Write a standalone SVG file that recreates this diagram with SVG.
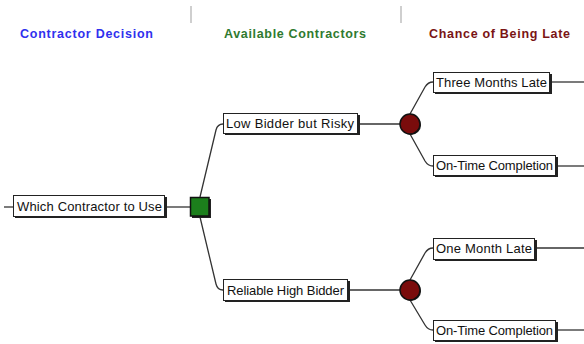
<svg xmlns="http://www.w3.org/2000/svg" width="584" height="344" viewBox="0 0 584 344">
  <defs>
    <style>
      .hdr { font-family: "Liberation Sans", Arial, sans-serif; font-size: 12.5px; font-weight: bold; }
      .sep { stroke: #cfcfcf; stroke-width: 2; }
      .box { fill: #ffffff; stroke: #222222; stroke-width: 1; }
      .shadow { fill: #222222; }
      .lbl { font-family: "Liberation Sans", Arial, sans-serif; font-size: 13px; fill: #111111; }
      .conn { fill: none; stroke: #333333; stroke-width: 1.3; }
      .chance { fill: #7a0c0c; stroke: #111111; stroke-width: 1.5; }
      .decision { fill: #1c7f1c; stroke: #111111; stroke-width: 1.5; }
    </style>
  </defs>

  <rect width="584" height="344" fill="#ffffff"/>

  <!-- column headers -->
  <g id="headers">
    <line class="sep" x1="191" y1="6" x2="191" y2="23"/>
    <line class="sep" x1="401" y1="6" x2="401" y2="23"/>
    <text class="hdr" x="20" y="38" fill="#3030ee" textLength="133" lengthAdjust="spacing">Contractor Decision</text>
    <text class="hdr" x="224" y="38" fill="#2f7a2f" textLength="142" lengthAdjust="spacing">Available Contractors</text>
    <text class="hdr" x="429" y="38" fill="#7a1414" textLength="141" lengthAdjust="spacing">Chance of Being Late</text>
  </g>

  <!-- connectors -->
  <g id="connectors">
    <line class="conn" x1="4" y1="207" x2="13" y2="207"/>
    <line class="conn" x1="167" y1="207" x2="190" y2="207"/>
    <path class="conn" d="M200,197 L216,130 Q217.5,124 223,124"/>
    <path class="conn" d="M200,217 L216,284 Q217.5,290 223,290"/>
    <line class="conn" x1="360" y1="124" x2="400" y2="124"/>
    <line class="conn" x1="350" y1="290" x2="400" y2="290"/>
    <path class="conn" d="M410,114 L425,87 Q428,82 433,82"/>
    <path class="conn" d="M410,134 L425,161 Q428,166 433,166"/>
    <path class="conn" d="M410,280 L425,253 Q428,248 433,248"/>
    <path class="conn" d="M410,300 L425,325 Q428,330 433,330"/>
    <line class="conn" x1="552" y1="82" x2="584" y2="82"/>
    <line class="conn" x1="558" y1="166" x2="584" y2="166"/>
    <line class="conn" x1="537" y1="248" x2="584" y2="248"/>
    <line class="conn" x1="558" y1="330" x2="584" y2="330"/>
  </g>

  <!-- decision node -->
  <g id="root">
    <rect class="shadow" x="15" y="197" width="152" height="21"/>
    <rect class="box" x="13.5" y="195.5" width="151" height="21"/>
    <text class="lbl" x="17" y="211" textLength="145" lengthAdjust="spacing">Which Contractor to Use</text>
  </g>
  <g id="decision">
    <rect x="192" y="199" width="19" height="19" fill="#222222"/>
    <rect class="decision" x="190.5" y="197.5" width="18.5" height="18.5"/>
  </g>

  <!-- contractor options -->
  <g id="low-bidder">
    <rect class="shadow" x="225" y="115" width="135" height="20"/>
    <rect class="box" x="223.5" y="113.5" width="134" height="20"/>
    <text class="lbl" x="226" y="128" textLength="128" lengthAdjust="spacing">Low Bidder but Risky</text>
  </g>
  <g id="reliable-bidder">
    <rect class="shadow" x="225" y="281" width="125" height="21"/>
    <rect class="box" x="223.5" y="279.5" width="124" height="21"/>
    <text class="lbl" x="227" y="295" textLength="117" lengthAdjust="spacing">Reliable High Bidder</text>
  </g>

  <!-- chance nodes -->
  <g id="chance-low">
    <circle cx="411" cy="125" r="10" fill="#222222"/>
    <circle class="chance" cx="410" cy="124" r="10"/>
  </g>
  <g id="chance-reliable">
    <circle cx="411" cy="291" r="10" fill="#222222"/>
    <circle class="chance" cx="410" cy="290" r="10"/>
  </g>

  <!-- outcomes -->
  <g id="three-months-late">
    <rect class="shadow" x="435" y="74" width="117" height="20"/>
    <rect class="box" x="433.5" y="72.5" width="116" height="20"/>
    <text class="lbl" x="436" y="87" textLength="111" lengthAdjust="spacing">Three Months Late</text>
  </g>
  <g id="on-time-low">
    <rect class="shadow" x="435" y="157" width="123" height="20"/>
    <rect class="box" x="433.5" y="155.5" width="122" height="20"/>
    <text class="lbl" x="436" y="170" textLength="117" lengthAdjust="spacing">On-Time Completion</text>
  </g>
  <g id="one-month-late">
    <rect class="shadow" x="435" y="240" width="102" height="21"/>
    <rect class="box" x="433.5" y="238.5" width="101" height="21"/>
    <text class="lbl" x="436" y="253" textLength="96" lengthAdjust="spacing">One Month Late</text>
  </g>
  <g id="on-time-reliable">
    <rect class="shadow" x="435" y="322" width="123" height="20"/>
    <rect class="box" x="433.5" y="320.5" width="122" height="20"/>
    <text class="lbl" x="436" y="335" textLength="117" lengthAdjust="spacing">On-Time Completion</text>
  </g>
</svg>
